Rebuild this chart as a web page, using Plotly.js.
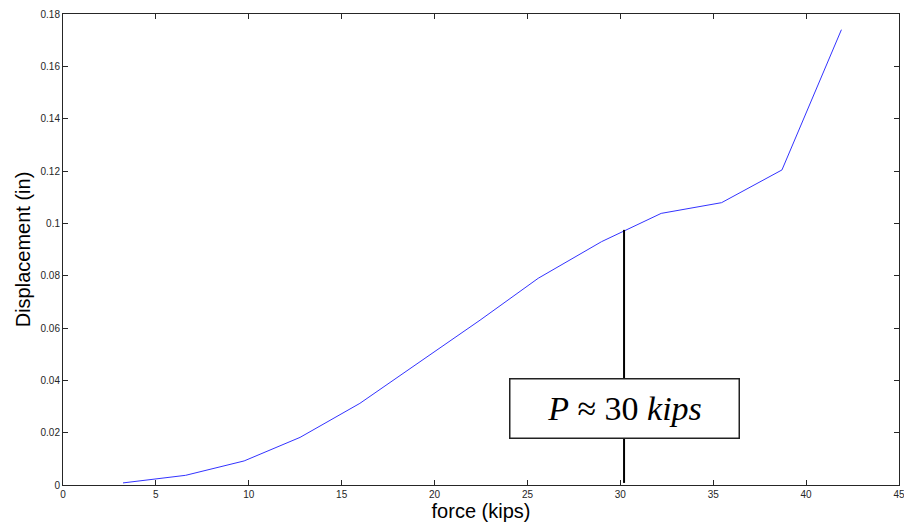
<!DOCTYPE html>
<html>
<head>
<meta charset="utf-8">
<script src="https://cdn.plot.ly/plotly-3.0.1.min.js"></script>
<style>html,body{margin:0;padding:0;background:#fff;}#chart{width:904px;height:524px;}</style>
</head>
<body>
<div id="chart"></div>
<script>
const force = [3.23, 5.0, 6.6, 9.75, 12.76, 15.98, 19.3, 22.45, 25.58, 28.99, 32.2, 35.45, 38.7, 41.9];
const displacement = [0.0008, 0.0024, 0.0037, 0.0092, 0.0182, 0.0312, 0.0474, 0.0630, 0.0790, 0.0930, 0.1038, 0.1079, 0.1204, 0.1740];
const markerX = [30.2, 30.2];
const markerY = [0.0008, 0.0975];
const xTicks = [0, 5, 10, 15, 20, 25, 30, 35, 40, 45];
const yTicks = [0, 0.02, 0.04, 0.06, 0.08, 0.1, 0.12, 0.14, 0.16, 0.18];
const yTickText = ['0', '0.02', '0.04', '0.06', '0.08', '0.1', '0.12', '0.14', '0.16', '0.18'];
const noteText = '<i>P</i> ≈ 30 <i>kips</i>';
const noteX = 30.25;
const noteY = 0.0294;

const traces = [
  {x: force, y: displacement, type: 'scatter', mode: 'lines',
   line: {color: '#3333ff', width: 1}, hoverinfo: 'skip'},
  {x: markerX, y: markerY, type: 'scatter', mode: 'lines',
   line: {color: '#000000', width: 2}, hoverinfo: 'skip'}
];

const axisCommon = {
  showgrid: false, zeroline: false, showline: true, mirror: 'ticks',
  linecolor: '#262626', linewidth: 1, ticks: 'inside', ticklen: 5,
  tickcolor: '#262626', ticklabeloverflow: 'allow',
  tickfont: {family: 'Liberation Sans, Arial, sans-serif', size: 10, color: '#262626'}
};

const layout = {
  width: 904, height: 524,
  margin: {l: 63, r: 5, t: 14, b: 39},
  paper_bgcolor: '#ffffff', plot_bgcolor: '#ffffff',
  showlegend: false,
  xaxis: Object.assign({}, axisCommon, {
    range: [0, 45], tickvals: xTicks, ticktext: xTicks.map(String),
    title: {text: 'force (kips)', font: {family: 'Liberation Sans, Arial, sans-serif', size: 20, color: '#000'}, standoff: 2}
  }),
  yaxis: Object.assign({}, axisCommon, {
    range: [0, 0.18], tickvals: yTicks, ticktext: yTickText,
    title: {text: 'Displacement (in)', font: {family: 'Liberation Sans, Arial, sans-serif', size: 20, color: '#000'}, standoff: 4}
  }),
  annotations: [{
    x: noteX, y: noteY, xref: 'x', yref: 'y', text: noteText, showarrow: false,
    font: {family: 'Liberation Serif, DejaVu Serif, serif', size: 34, color: '#000'},
    bgcolor: '#ffffff', bordercolor: '#222222', borderwidth: 1.5,
    width: 226, height: 56, align: 'center', valign: 'middle'
  }]
};

Plotly.newPlot('chart', traces, layout, {displayModeBar: false, staticPlot: true});
</script>
</body>
</html>
